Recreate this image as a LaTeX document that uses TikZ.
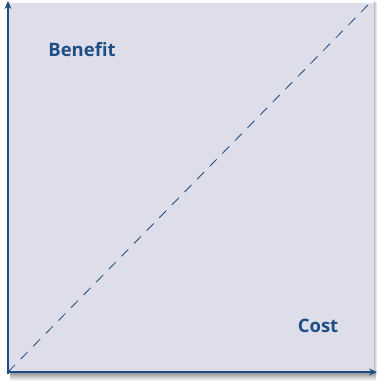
\documentclass[tikz,border=0pt]{standalone}
\usepackage{fontspec}
\setmainfont{Open Sans}
\usepackage{xcolor}
\usepackage{tikz}
\usetikzlibrary{positioning, calc, arrows.meta}

\definecolor{axisblue}{RGB}{31,78,132}
\definecolor{panelgrey}{RGB}{222,222,234}

\begin{document}
\begin{tikzpicture}[x=1pt, y=1pt]
			\tikzstyle{axis}=[draw=axisblue, line width=1.3, -{Stealth[length=8, width=7]}]
			\tikzstyle{label}=[text=axisblue, font=\bfseries\fontsize{18.5}{20}\selectfont]
			
			\useasboundingbox (0,0) rectangle (377,382);
			%% panel and shadow
			\shade [top color=white!55!black, bottom color=white] (10,1) rectangle (376,10);
			\shade [left color=white!75!black, right color=white] (374,10) rectangle (377,379);
			\fill [panelgrey] (8,10) rectangle (374,379);
			
			\coordinate (o) at (8,10);
			\coordinate (ytop) at (8,381);
			\coordinate (xend) at (377,10);
			\coordinate (corner) at (368,377);
			
			\draw [axisblue, line width=0.8, dash pattern=on 10 off 8] (o) -- (corner);
			\draw [axis] ($(o)+(0,-2)$) -- (ytop);
			\draw [axis] (o) -- (xend);
			
			\node (benefit) at (82,332) [label] {Benefit};
			\node (cost) at (318,56) [label] {Cost};
			\end{tikzpicture}
\end{document}
